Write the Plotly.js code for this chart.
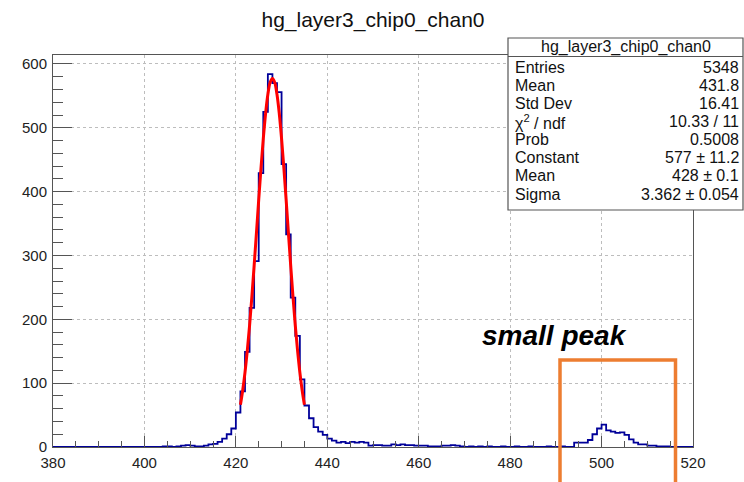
<!DOCTYPE html>
<html>
<head>
<meta charset="utf-8">
<script src="https://cdn.plot.ly/plotly-3.0.1.min.js"></script>
<style>
  html, body { margin: 0; padding: 0; background: #ffffff; }
  #chart { width: 744px; height: 482px; }
</style>
</head>
<body>
<div id="chart"></div>
<script>
// ---- data ----
const histTitle = "hg_layer3_chip0_chan0";
const xMin = 380;
const xMax = 520;
// counts per 1-unit bin, bins [380,381) ... [519,520)
const counts = [
  // 380-399
  0,0,0,0,0,0,0,0,0,0, 0,0,0,0,0,0,0,0,0,0,
  // 400-419
  0,0,0,0,1,1,0,1,2,3, 2,1,1,2,4,5,8,13,20,29,
  // 420-439
  54,87,149,218,291,429,525,584,570,556, 443,333,234,174,106,65,45,31,24,19,
  // 440-459
  13,10,7,8,6,8,7,8,7,2, 3,3,2,2,4,3,4,3,3,2,
  // 460-479
  2,2,1,1,1,2,2,3,2,1, 0,1,0,1,0,1,0,0,1,0,
  // 480-499
  0,1,0,0,1,0,0,0,1,0, 0,1,0,0,7,7,7,11,20,29,
  // 500-519
  35,26,24,22,23,19,12,7,4,4, 2,2,1,1,1,0,0,0,0,0
];
// gaussian fit curve as seen in the picture
const fitX = [421,421.5,422,422.5,423,423.5,424,424.5,425,425.5,426,426.5,427,427.5,428,
              428.5,429,429.5,430,430.5,431,431.5,432,432.5,433,433.5,434,434.5,435];
const fitY = [66,89,117,151,190,235,284,335,387,437,483,522,552,571,577,
              571,552,522,483,437,387,335,284,235,190,151,117,89,66];
// statistics box
const statLabels = ["Entries","Mean","Std Dev","χ<sup>2</sup> / ndf","Prob","Constant","Mean","Sigma"];
const statValues = ["5348","431.8","16.41","10.33 / 11","0.5008","577 ± 11.2","428 ± 0.1","3.362 ± 0.054"];
const noteText = "small peak";

// ---- build step line from bin edges ----
const stepX = [], stepY = [];
for (let i = 0; i < counts.length; i++) { stepX.push(xMin + i); stepY.push(counts[i]); }
stepX.push(xMax); stepY.push(counts[counts.length - 1]);

const W = 744, H = 482;
const mL = 53, mR = 51, mT = 55, mB = 35;
const pw = W - mL - mR, ph = H - mT - mB;
const px = v => (v - mL) / pw;          // pixel x -> paper
const py = v => (H - mB - v) / ph;      // pixel y -> paper

const traces = [
  { x: stepX, y: stepY, type: 'scatter', mode: 'lines',
    line: { shape: 'hv', color: '#000099', width: 1.8 }, hoverinfo: 'skip' },
  { x: fitX, y: fitY, type: 'scatter', mode: 'lines',
    line: { shape: 'spline', color: '#ff0000', width: 3 }, hoverinfo: 'skip' }
];

const axFont = { family: 'Liberation Sans, Arial, sans-serif', size: 15, color: '#222' };
const boxFont = { family: 'Liberation Sans, Arial, sans-serif', size: 16, color: '#111' };

const shapes = [
  // stats box
  { type: 'rect', xref: 'paper', yref: 'paper', x0: px(508), x1: px(743), y0: py(210), y1: py(38),
    fillcolor: '#ffffff', line: { color: '#555', width: 1.2 }, layer: 'above' },
  { type: 'line', xref: 'paper', yref: 'paper', x0: px(508), x1: px(743), y0: py(56.5), y1: py(56.5),
    line: { color: '#555', width: 1.2 }, layer: 'above' },
  // orange highlight box (open at the bottom, runs off the canvas)
  { type: 'path', xref: 'paper', yref: 'paper',
    path: `M ${px(560)} ${py(500)} L ${px(560)} ${py(360)} L ${px(675.5)} ${py(360)} L ${px(675.5)} ${py(500)}`,
    line: { color: '#ED7D31', width: 3.5 }, layer: 'above' }
];

const annotations = [
  { xref: 'paper', yref: 'paper', x: px(626), y: py(47), text: histTitle, showarrow: false,
    xanchor: 'center', yanchor: 'middle', font: boxFont },
  { xref: 'paper', yref: 'paper', x: px(554.5), y: py(335), text: '<b><i>' + noteText + '</i></b>',
    showarrow: false, xanchor: 'center', yanchor: 'middle',
    font: { family: 'Liberation Sans, Arial, sans-serif', size: 28, color: '#000' } }
];
for (let i = 0; i < statLabels.length; i++) {
  const yy = 67.3 + 18.1 * i;
  annotations.push({ xref: 'paper', yref: 'paper', x: px(513), y: py(yy), text: statLabels[i],
    showarrow: false, xanchor: 'left', yanchor: 'middle', font: boxFont });
  annotations.push({ xref: 'paper', yref: 'paper', x: px(741), y: py(yy), text: statValues[i],
    showarrow: false, xanchor: 'right', yanchor: 'middle', font: boxFont });
}

const layout = {
  width: W, height: H, autosize: false,
  margin: { l: mL, r: mR, t: mT, b: mB, pad: 0 },
  paper_bgcolor: '#ffffff', plot_bgcolor: '#ffffff',
  showlegend: false,
  title: { text: histTitle, x: 0.5, xref: 'paper', xanchor: 'center',
           y: 1 - 20 / H, yref: 'container', yanchor: 'middle',
           font: { family: 'Liberation Sans, Arial, sans-serif', size: 21, color: '#111' } },
  xaxis: {
    range: [xMin, xMax], tick0: xMin, dtick: 20, tickmode: 'linear',
    ticks: 'inside', ticklen: 11, tickwidth: 1, tickcolor: '#555',
    minor: { dtick: 5, ticks: 'inside', ticklen: 6, tickcolor: '#555', showgrid: false },
    showgrid: true, gridcolor: '#bdbdbd', griddash: 'dot', gridwidth: 1,
    showline: true, linecolor: '#555', linewidth: 1, mirror: true,
    zeroline: false, tickfont: axFont, ticklabelstandoff: 2
  },
  yaxis: {
    range: [0, 614], tick0: 0, dtick: 100, tickmode: 'linear',
    ticks: 'inside', ticklen: 19, tickwidth: 1, tickcolor: '#555',
    minor: { dtick: 20, ticks: 'inside', ticklen: 10, tickcolor: '#555', showgrid: false },
    showgrid: true, gridcolor: '#bdbdbd', griddash: 'dot', gridwidth: 1,
    showline: true, linecolor: '#555', linewidth: 1, mirror: true,
    zeroline: false, tickfont: axFont, ticklabelstandoff: 2
  },
  shapes: shapes,
  annotations: annotations
};

Plotly.newPlot('chart', traces, layout, { staticPlot: true, displayModeBar: false });
</script>
</body>
</html>
